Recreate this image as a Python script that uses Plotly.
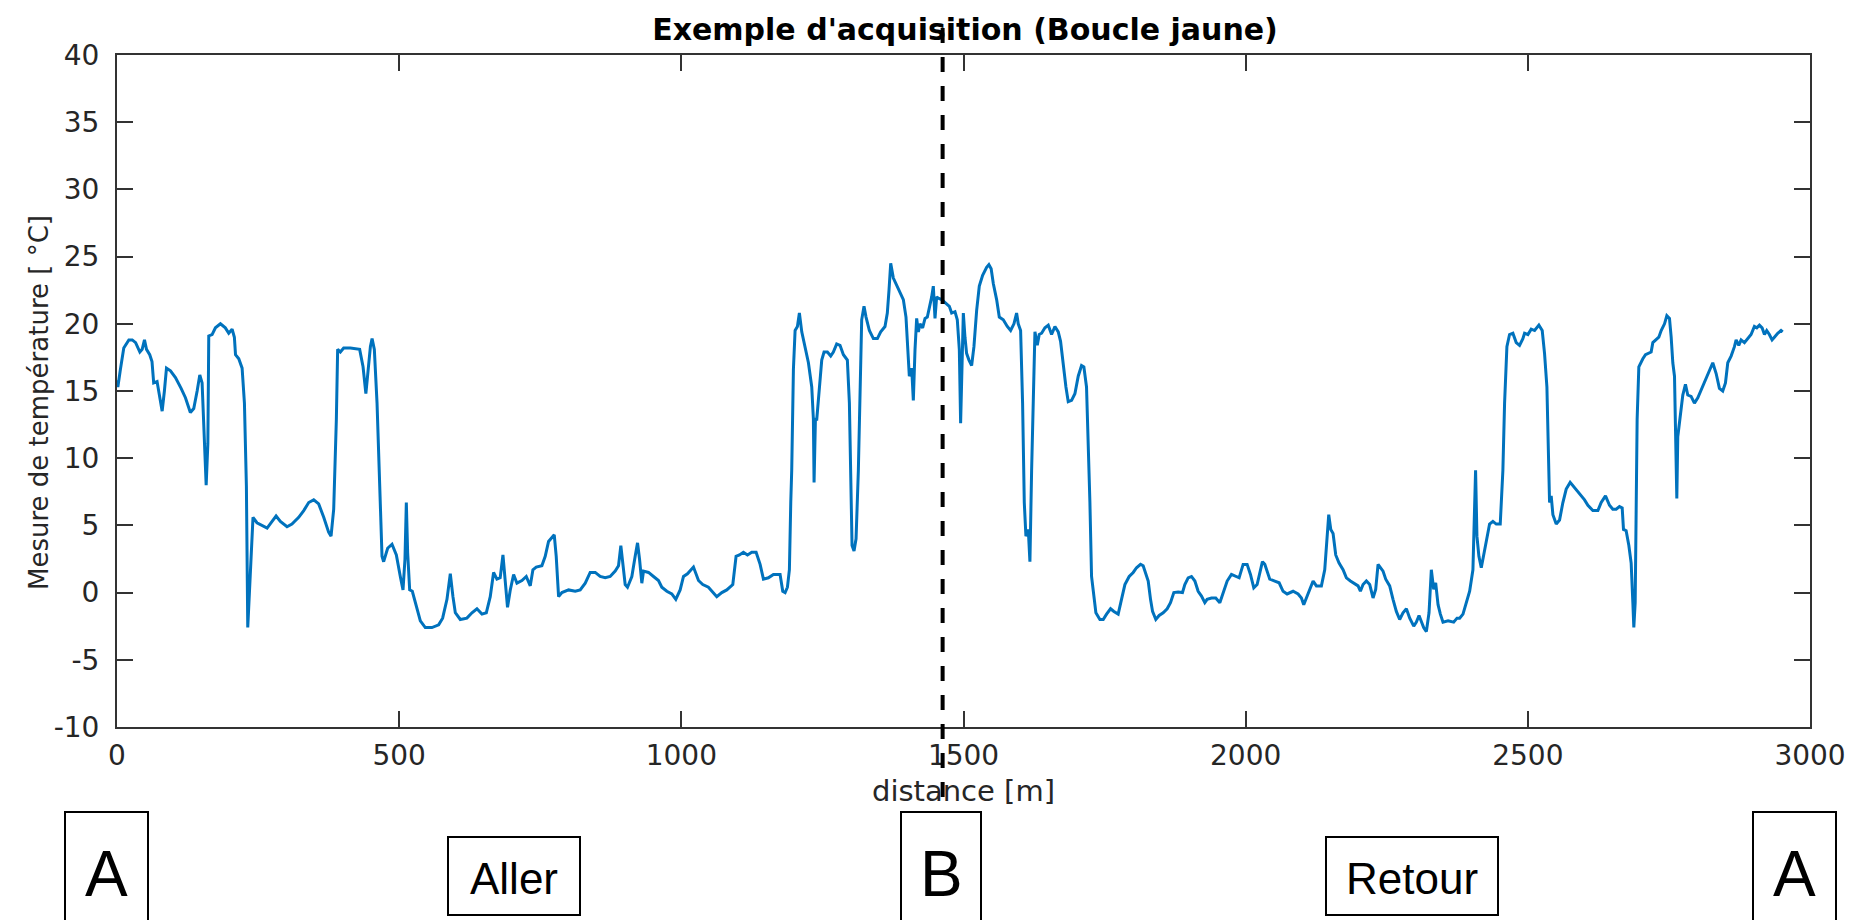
import plotly.graph_objects as go

# ---------------- data ----------------
distance_m = [
    0, 1.5, 6, 12, 21, 27, 33, 40.5, 44.6, 48.7, 52.3, 58, 62, 65, 71, 76, 80, 84, 87.7, 94.8,
    103.6, 113.6, 121.3, 130, 136, 142, 146.7, 150.8, 153.8, 158, 161, 162.6, 168.5, 174.4, 183.3,
    192, 198, 204, 208, 210, 215.8, 221.7, 225.8, 229.3, 231.7, 236.4, 241, 248, 257, 266, 274.8,
    281.9, 289.5, 301.3, 310, 322, 330.9, 339.7, 348.6, 357.4, 366.3, 375, 379.3, 384, 388.7, 391,
    395.8, 401.7, 413.5, 425.3, 430, 436, 441, 444, 449, 452, 456, 460.8, 465.5, 469.6, 472.5,
    479.6, 487.3, 495, 502, 506.8, 510.3, 512.7, 515, 518.6, 523.3, 530.4, 537.5, 546.3, 558, 570,
    577, 584.7, 590.6, 595.3, 599.5, 608.3, 620, 629, 637.8, 646.7, 654.4, 661.4, 667.3, 673.2, 679,
    683.9, 688, 692, 696.9, 702.8, 708.7, 717.5, 725.2, 732.3, 737, 742.9, 752.9, 758.8, 764.7,
    770.6, 774.8, 778.3, 782.5, 788.4, 800.2, 812, 820.8, 829.7, 838.5, 847.4, 856.2, 865.1, 873.9,
    882.8, 888.7, 892.8, 896.4, 900.5, 904.6, 912.3, 918.2, 922.4, 925.9, 930, 933, 941.8, 950.7,
    959.5, 965.4, 974.3, 983.1, 990.2, 997.9, 1003.8, 1010.9, 1021.5, 1030.4, 1038, 1048, 1055.8,
    1062.8, 1071.7, 1080.5, 1091.2, 1097, 1103, 1110, 1117.2, 1124.8, 1132.5, 1139.6, 1145.5,
    1154.3, 1163.2, 1175, 1179.7, 1183.9, 1188, 1191.5, 1193.9, 1195.6, 1198.6, 1201.6, 1205.7,
    1209.2, 1213.4, 1219.3, 1225.2, 1231.1, 1234, 1235.2, 1237.6, 1240, 1242.9, 1248.8, 1252.9,
    1258.8, 1264.7, 1269.4, 1275.3, 1281.2, 1287.2, 1294.2, 1297.8, 1300.1, 1302.5, 1306, 1309.6,
    1313.7, 1316.7, 1319.6, 1323.7, 1327.3, 1333.2, 1340.3, 1347.4, 1353.3, 1360.9, 1365, 1368,
    1371, 1375.7, 1384.6, 1393.4, 1398.1, 1400.5, 1404, 1408.2, 1411.1, 1414.1, 1417, 1420, 1423,
    1427.6, 1431.8, 1435.9, 1440.6, 1443.6, 1446.5, 1449.5, 1452.4, 1455.4, 1461.3, 1467.2, 1474.9,
    1479, 1484.9, 1489, 1492.6, 1494.9, 1497.3, 1499.7, 1502.6, 1505.5, 1509.7, 1514.4, 1518.5,
    1523.3, 1528, 1533.9, 1541, 1545, 1549, 1552.8, 1558.7, 1563.4, 1570.5, 1577.6, 1583.5, 1589.4,
    1594.1, 1597, 1601.2, 1604.7, 1607.7, 1610.6, 1614.8, 1617.7, 1620.7, 1623.6, 1626.6, 1630.7,
    1634.2, 1638.4, 1644.3, 1650.2, 1656.1, 1662, 1667.9, 1672, 1676.7, 1681.5, 1685.6, 1691.5,
    1697.4, 1703.3, 1709.2, 1713.3, 1718, 1721, 1724, 1726.9, 1731, 1734.6, 1741.7, 1747.6, 1753.5,
    1760.6, 1766.5, 1774.1, 1780, 1786, 1793.6, 1800.7, 1806.6, 1813.7, 1818.4, 1823.1, 1827.3,
    1831.4, 1835, 1840.8, 1846.7, 1853.8, 1860.9, 1866.8, 1872.7, 1880.4, 1888, 1892.2, 1898.1,
    1904, 1910, 1915.8, 1921.7, 1927.6, 1931.7, 1939.4, 1947, 1954.2, 1960, 1967.2, 1974.8, 1982.5,
    1988.4, 1995.5, 2002.6, 2008.5, 2014.4, 2020.3, 2025, 2029.7, 2033.9, 2038, 2042.7, 2051.6,
    2059.3, 2066.3, 2073.4, 2084, 2092.9, 2098.8, 2102.9, 2107.6, 2113.6, 2119.5, 2125.4, 2134.2,
    2140.1, 2144.3, 2147.2, 2150.8, 2154.9, 2159.6, 2165.5, 2172.6, 2178.5, 2185.6, 2191.5, 2199.2,
    2203.3, 2208, 2213.9, 2219.8, 2225.7, 2230.4, 2234.6, 2238.7, 2243.4, 2248.2, 2255.2, 2261.1,
    2267, 2272.9, 2278.8, 2284.8, 2290.7, 2297.8, 2302.5, 2307.2, 2311.3, 2315.4, 2320.2, 2324.9,
    2329, 2333.2, 2336.7, 2340.9, 2345, 2349.7, 2358.6, 2368.6, 2374.5, 2379.2, 2385.1, 2391,
    2396.9, 2402.7, 2407.4, 2409.8, 2413.3, 2417.5, 2420.4, 2426.3, 2432.2, 2438.1, 2444, 2451.1,
    2455.8, 2458.8, 2462.9, 2467.6, 2473.5, 2479.4, 2485.3, 2491.2, 2494.2, 2500.1, 2506, 2512,
    2519.6, 2525.5, 2529.6, 2533.8, 2536.7, 2538.5, 2541.4, 2544.4, 2550.3, 2556.2, 2562.1, 2568,
    2575, 2582.7, 2591.6, 2600.5, 2606.4, 2615.2, 2624.1, 2630, 2637.6, 2644.7, 2650.6, 2656.5,
    2662.4, 2667.2, 2669.5, 2674.2, 2679, 2683.1, 2686.1, 2687.8, 2690.2, 2692, 2693.7, 2696.7,
    2700.8, 2703.8, 2708.5, 2712.6, 2718.5, 2721.5, 2727.4, 2732.1, 2736.3, 2742.2, 2746.3, 2751,
    2754, 2756.9, 2759.9, 2761.6, 2764, 2765.7, 2768.7, 2774.6, 2779.3, 2783.4, 2789.3, 2795.2,
    2801.2, 2807.1, 2813, 2818.9, 2824.8, 2827.7, 2833.7, 2839.5, 2845.4, 2850.2, 2854.3, 2860.2,
    2866.1, 2869.1, 2873.8, 2877.9, 2883.8, 2889.7, 2895.6, 2901.5, 2905.7, 2910.4, 2915.1, 2919.3,
    2923.3, 2928, 2932.8, 2936.9, 2942.8, 2948.7, 2951.7,
]

temperature_c = [
    15.8, 15.3, 16.6, 18.2, 18.8, 18.8, 18.6, 17.9, 18.1, 18.8, 18.1, 17.7, 17.2, 15.6, 15.7, 14.6,
    13.5, 15.0, 16.7, 16.5, 16.0, 15.2, 14.5, 13.4, 13.7, 15.0, 16.2, 15.6, 12.9, 8.0, 11.1, 19.1,
    19.2, 19.7, 20.0, 19.7, 19.3, 19.6, 19.0, 17.7, 17.4, 16.7, 14.1, 7.9, -2.6, 1.7, 5.6, 5.2, 5.0,
    4.8, 5.3, 5.7, 5.3, 4.9, 5.1, 5.6, 6.1, 6.7, 6.9, 6.6, 5.6, 4.5, 4.2, 6.2, 12.9, 18.1, 17.9,
    18.2, 18.2, 18.1, 18.1, 16.8, 14.8, 16.1, 18.3, 18.9, 18.1, 14.1, 8.7, 2.7, 2.3, 3.3, 3.6, 2.8,
    1.2, 0.2, 2.5, 6.7, 3.0, 0.2, 0.1, -1.0, -2.1, -2.6, -2.6, -2.4, -1.9, -0.5, 1.4, -0.3, -1.5,
    -2.0, -1.9, -1.5, -1.2, -1.6, -1.5, -0.3, 1.5, 1.0, 1.1, 2.8, 0.5, -1.1, 0.2, 1.35, 0.7, 0.9,
    1.2, 0.5, 1.7, 1.9, 2.0, 2.7, 3.8, 4.1, 4.3, 2.7, -0.3, 0.0, 0.2, 0.1, 0.2, 0.7, 1.5, 1.5, 1.2,
    1.1, 1.2, 1.6, 2.0, 3.5, 2.2, 0.6, 0.4, 1.2, 2.7, 3.7, 2.5, 0.7, 1.6, 1.5, 1.2, 0.9, 0.4, 0.1,
    -0.1, -0.5, 0.2, 1.2, 1.4, 1.9, 0.9, 0.6, 0.4, 0.0, -0.3, 0.0, 0.2, 0.6, 2.7, 2.8, 3.0, 2.8,
    3.0, 3.0, 2.1, 1.0, 1.1, 1.35, 1.35, 0.1, 0.0, 0.4, 1.7, 6.7, 9.1, 16.6, 19.5, 19.8, 20.8, 19.4,
    18.2, 17.1, 15.3, 12.9, 8.2, 12.9, 12.9, 14.6, 17.3, 17.9, 17.9, 17.6, 17.9, 18.5, 18.4, 17.7,
    17.3, 14.1, 9.1, 3.5, 3.1, 4.0, 9.1, 15.3, 20.3, 21.3, 20.5, 19.5, 18.9, 18.9, 19.4, 19.8, 20.8,
    22.5, 24.5, 23.4, 22.6, 21.8, 20.5, 19.0, 16.1, 16.7, 14.3, 18.1, 20.4, 19.4, 20.0, 19.7, 20.4,
    20.5, 21.3, 22.0, 22.8, 20.4, 22.0, 21.9, 21.8, 21.6, 21.3, 20.8, 20.9, 20.3, 18.1, 12.6, 18.1,
    20.8, 19.0, 17.8, 17.3, 16.9, 18.3, 21.0, 22.8, 23.6, 24.2, 24.4, 24.1, 23.0, 21.8, 20.5, 20.3,
    19.8, 19.5, 20.0, 20.8, 20.0, 19.5, 14.1, 6.7, 4.2, 4.7, 2.3, 9.1, 15.3, 19.4, 18.4, 19.2, 19.3,
    19.7, 19.9, 19.2, 19.8, 19.4, 18.7, 16.8, 15.3, 14.2, 14.3, 14.8, 16.1, 16.9, 16.8, 15.3, 11.6,
    6.7, 1.2, -0.3, -1.5, -2.0, -2.0, -1.6, -1.2, -1.4, -1.6, -0.5, 0.6, 1.2, 1.5, 1.85, 2.1, 2.0,
    1.35, 0.86, -0.5, -1.4, -2.0, -1.7, -1.5, -1.2, -0.75, 0.0, 0.04, 0.0, 0.6, 1.1, 1.2, 0.86, 0.1,
    -0.26, -0.75, -0.5, -0.4, -0.4, -0.75, -0.1, 0.86, 1.35, 1.2, 1.1, 2.1, 2.1, 1.35, 0.36, 0.6,
    1.5, 2.3, 2.1, 1.6, 1.0, 0.86, 0.73, 0.1, -0.1, 0.1, -0.1, -0.4, -0.9, -0.4, 0.24, 0.86, 0.5,
    0.5, 1.7, 4.2, 5.8, 4.7, 4.4, 2.8, 2.2, 1.7, 1.1, 0.86, 0.73, 0.5, 0.1, 0.6, 0.86, 0.6, -0.4,
    0.24, 2.1, 1.85, 1.6, 1.0, 0.5, -0.5, -1.4, -2.0, -1.5, -1.2, -1.9, -2.5, -2.2, -1.7, -2.1,
    -2.6, -2.9, -1.5, 1.7, 0.24, 0.73, -0.9, -1.6, -2.2, -2.1, -2.2, -1.9, -1.9, -1.6, -0.75, 0.1,
    1.7, 9.1, 4.2, 2.7, 1.85, 2.5, 4.0, 5.1, 5.3, 5.1, 5.1, 9.1, 14.1, 18.3, 19.2, 19.3, 18.6, 18.4,
    18.9, 19.3, 19.2, 19.6, 19.5, 19.9, 19.5, 17.8, 15.3, 9.1, 6.7, 7.2, 5.8, 5.1, 5.4, 6.7, 7.7,
    8.2, 7.8, 7.4, 6.9, 6.5, 6.1, 6.1, 6.7, 7.2, 6.5, 6.2, 6.2, 6.4, 6.3, 4.7, 4.6, 3.5, 2.2,
    -0.75, -2.6, -0.75, 6.7, 12.9, 16.8, 17.2, 17.4, 17.7, 17.8, 17.9, 18.6, 18.8, 19.0, 19.5,
    20.0, 20.6, 20.4, 19.0, 17.1, 16.1, 11.6, 7.0, 11.6, 12.6, 14.7, 15.5, 14.7, 14.6, 14.1, 14.5,
    15.1, 15.7, 16.3, 16.8, 17.1, 16.3, 15.2, 15.0, 15.6, 17.1, 17.6, 18.3, 18.8, 18.4, 18.8, 18.6,
    18.9, 19.2, 19.8, 19.7, 19.9, 19.7, 19.2, 19.5, 19.2, 18.8, 19.0, 19.3, 19.5, 19.4,
]

x_tick_values = [0, 500, 1000, 1500, 2000, 2500, 3000]
y_tick_values = [-10, -5, 0, 5, 10, 15, 20, 25, 30, 35, 40]
x_range = [0, 3000]
y_range = [-10, 40]
b_distance_m = 1463          # position of point B (turn-around)

title_text = "Exemple d'acquisition (Boucle jaune)"
x_title_text = "distance [m]"
y_title_text = "Mesure de température [ °C]"
box_labels = ["A", "Aller", "B", "Retour", "A"]

# ---------------- layout geometry (pixels) ----------------
W, H = 1857, 920
L, R, T, B = 117, 47, 55, 193
PW, PH = W - L - R, H - T - B


def px_x(p):
    return (p - L) / PW


def px_y(p):
    return (H - B - p) / PH


fig = go.Figure()
fig.add_trace(go.Scatter(
    x=distance_m, y=temperature_c, mode="lines",
    line=dict(color="#0072BD", width=3),
    showlegend=False, hoverinfo="skip",
))

axis_color = "#333333"
tick_font = dict(family="DejaVu Sans, Liberation Sans, sans-serif", size=28, color="#262626")

fig.update_xaxes(
    range=x_range, tickvals=x_tick_values, ticktext=[str(v) for v in x_tick_values],
    showline=True, linecolor=axis_color, linewidth=2, mirror="ticks",
    ticks="inside", ticklen=16, tickwidth=2, tickcolor=axis_color,
    showgrid=False, zeroline=False, tickfont=tick_font, ticklabelstandoff=2,
)
fig.update_yaxes(
    range=y_range, tickvals=y_tick_values, ticktext=[str(v) for v in y_tick_values],
    showline=True, linecolor=axis_color, linewidth=2, mirror="ticks",
    ticks="inside", ticklen=16, tickwidth=2, tickcolor=axis_color,
    showgrid=False, zeroline=False, tickfont=tick_font, ticklabelstandoff=10,
)

shapes = [
    # dashed vertical line marking B, running from the title down into box B
    dict(type="line", xref="x", yref="paper", x0=b_distance_m, x1=b_distance_m,
         y0=px_y(28), y1=px_y(812), line=dict(color="black", width=4, dash="15px,14px"),
         layer="above"),
]

# label boxes below the chart: (left, right, top, bottom) in px
box_geom = [
    (65, 148, 812, 940),
    (448, 580, 837, 915),
    (901, 981, 812, 940),
    (1326, 1498, 837, 915),
    (1753, 1836, 812, 940),
]
for (x0, x1, y0, y1) in box_geom:
    shapes.append(dict(type="rect", xref="paper", yref="paper",
                       x0=px_x(x0), x1=px_x(x1), y0=px_y(y0), y1=px_y(y1),
                       line=dict(color="black", width=2), fillcolor="rgba(0,0,0,0)",
                       layer="above"))

annotations = [
    dict(text=x_title_text, xref="paper", yref="paper", x=0.5, y=px_y(791),
         xanchor="center", yanchor="middle", showarrow=False,
         font=dict(family="DejaVu Sans, sans-serif", size=29, color="#262626")),
    dict(text=y_title_text, xref="paper", yref="paper", x=px_x(39), y=px_y(403),
         xanchor="center", yanchor="middle", textangle=-90, showarrow=False,
         font=dict(family="DejaVu Sans, sans-serif", size=26, color="#262626")),
]

label_fonts = [64, 44, 64, 44, 64]
label_centers = [(106, 874), (514, 878), (941, 874), (1412, 878), (1794, 874)]
for text, size, (cx, cy) in zip(box_labels, label_fonts, label_centers):
    annotations.append(dict(text=text, xref="paper", yref="paper", x=px_x(cx), y=px_y(cy),
                            xanchor="center", yanchor="middle", showarrow=False,
                            font=dict(family="Liberation Sans, Arial, sans-serif",
                                      size=size, color="black")))

fig.update_layout(
    width=W, height=H,
    margin=dict(l=L, r=R, t=T, b=B, autoexpand=False),
    paper_bgcolor="white", plot_bgcolor="white",
    title=dict(text="<b>" + title_text + "</b>", x=px_x(965), xref="paper", xanchor="center",
               y=1 - 29.5 / H, yref="container", yanchor="middle",
               font=dict(family="DejaVu Sans, sans-serif", size=30, color="black")),
    shapes=shapes, annotations=annotations,
)

fig.write_html("out.html")
